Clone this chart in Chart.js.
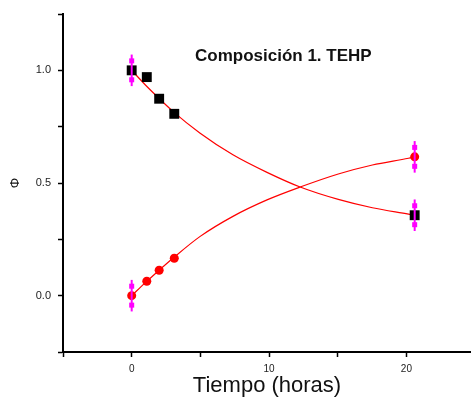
<!DOCTYPE html>
<html>
<head>
<meta charset="utf-8">
<script src="https://cdn.jsdelivr.net/npm/chart.js@4/dist/chart.umd.min.js"></script>
<style>
  html, body { margin: 0; padding: 0; background: #fff; }
  #wrap { width: 471px; height: 403px; }
</style>
</head>
<body>
<div id="wrap"><canvas id="c" width="471" height="403"></canvas></div>
<script>
// measured points
var timePts = [0, 1.1, 2.0, 3.1, 20.6];
var phiSquares = [1.0, 0.97, 0.874, 0.807, 0.357];
var phiCircles = [0.0, 0.064, 0.113, 0.166, 0.616];
var errSquares = [0.07, 0, 0, 0, 0.07];
var errCircles = [0.07, 0, 0, 0, 0.07];

// fitted curves
var fitTime = [0, 1, 2, 3, 4.96, 7.37, 9.85, 12.26, 15.04, 17.52, 20.15, 20.6];
var fitDecay = [1.0, 0.935, 0.875, 0.818, 0.722, 0.625, 0.547, 0.482, 0.427, 0.39, 0.362, 0.357];
var fitGrowth = [0, 0.058, 0.113, 0.166, 0.262, 0.352, 0.425, 0.482, 0.54, 0.58, 0.61, 0.616];

var titleText = 'Composición 1. TEHP';
var xTitle = 'Tiempo (horas)';
var yTitle = 'Φ';

function pairs(xs, ys) {
  return xs.map(function (x, i) { return { x: x, y: ys[i] }; });
}

var errorBars = {
  id: 'errorBars',
  afterDatasetsDraw: function (chart) {
    var ctx = chart.ctx, xs = chart.scales.x, ys = chart.scales.y;
    ctx.save();
    chart.data.datasets.forEach(function (ds) {
      if (!ds.errors) return;
      ds.data.forEach(function (p, i) {
        var e = ds.errors[i];
        if (!e) return;
        var px = xs.getPixelForValue(p.x);
        ctx.strokeStyle = '#ff00ff';
        ctx.fillStyle = '#ff00ff';
        ctx.lineWidth = 2;
        ctx.beginPath();
        ctx.moveTo(px, ys.getPixelForValue(p.y + e));
        ctx.lineTo(px, ys.getPixelForValue(p.y - e));
        ctx.stroke();
        [p.y + e * 0.6, p.y - e * 0.6].forEach(function (v) {
          var py = ys.getPixelForValue(v);
          ctx.fillRect(px - 2.5, py - 2.5, 5, 5);
        });
      });
    });
    ctx.restore();
  }
};

var innerTitle = {
  id: 'innerTitle',
  afterDraw: function (chart) {
    var ctx = chart.ctx, a = chart.chartArea;
    ctx.save();
    ctx.font = 'bold 17px "Liberation Sans", Arial, sans-serif';
    ctx.fillStyle = '#111';
    ctx.textAlign = 'center';
    ctx.textBaseline = 'middle';
    ctx.fillText(titleText, a.left + 0.54 * (a.right - a.left), a.top + 42);
    ctx.restore();
  }
};

new Chart(document.getElementById('c'), {
  type: 'scatter',
  data: {
    datasets: [
      {
        data: pairs(timePts, phiSquares),
        errors: errSquares,
        pointStyle: 'rect',
        pointRadius: 7,
        backgroundColor: '#000',
        borderColor: '#000',
        borderWidth: 0
      },
      {
        data: pairs(timePts, phiCircles),
        errors: errCircles,
        pointStyle: 'circle',
        pointRadius: 4.5,
        backgroundColor: '#ff0000',
        borderColor: '#ff0000',
        borderWidth: 0
      },
      {
        data: pairs(fitTime, fitDecay),
        showLine: true,
        pointRadius: 0,
        borderColor: '#ff0000',
        borderWidth: 1.2,
        cubicInterpolationMode: 'monotone'
      },
      {
        data: pairs(fitTime, fitGrowth),
        showLine: true,
        pointRadius: 0,
        borderColor: '#ff0000',
        borderWidth: 1.2,
        cubicInterpolationMode: 'monotone'
      }
    ]
  },
  options: {
    responsive: false,
    animation: false,
    events: [],
    layout: { autoPadding: false, padding: { top: 14, right: 0, left: 0, bottom: 0 } },
    plugins: { legend: { display: false }, tooltip: { enabled: false } },
    scales: {
      x: {
        type: 'linear',
        min: -5,
        max: 24.7,
        border: { display: true, color: '#000', width: 2 },
        grid: { drawOnChartArea: false, drawTicks: true, tickLength: 5, color: '#000', tickWidth: 1.5 },
        ticks: {
          stepSize: 5,
          autoSkip: false,
          maxRotation: 0,
          padding: 6,
          color: '#222',
          font: { family: '"Liberation Sans", Arial, sans-serif', size: 10 },
          callback: function (v) { return v % 10 === 0 ? String(v) : ''; }
        },
        title: {
          display: true,
          text: xTitle,
          color: '#111',
          padding: { top: 0, bottom: 4 },
          font: { family: '"Liberation Sans", Arial, sans-serif', size: 22 }
        },
        afterBuildTicks: function (s) {
          s.ticks = s.ticks.filter(function (t) { return t.value % 5 === 0; });
        },
        afterFit: function (s) { s.height = 51; s.paddingLeft = 0; s.paddingRight = 0; }
      },
      y: {
        min: -0.25,
        max: 1.25,
        border: { display: true, color: '#000', width: 2 },
        grid: { drawOnChartArea: false, drawTicks: true, tickLength: 5, color: '#000', tickWidth: 1.5 },
        ticks: {
          stepSize: 0.25,
          autoSkip: false,
          padding: 7,
          color: '#222',
          font: { family: '"Liberation Sans", Arial, sans-serif', size: 11 },
          callback: function (v) {
            return Math.abs(v * 2 - Math.round(v * 2)) < 1e-6 && v > -0.1 ? v.toFixed(1) : '';
          }
        },
        title: {
          display: true,
          text: yTitle,
          color: '#111',
          padding: { top: 8, bottom: 0 },
          font: { family: '"Liberation Sans", Arial, sans-serif', size: 13 }
        },
        afterFit: function (s) { s.width = 63; s.paddingTop = 0; s.paddingBottom = 0; }
      }
    }
  },
  plugins: [errorBars, innerTitle]
});
</script>
</body>
</html>
